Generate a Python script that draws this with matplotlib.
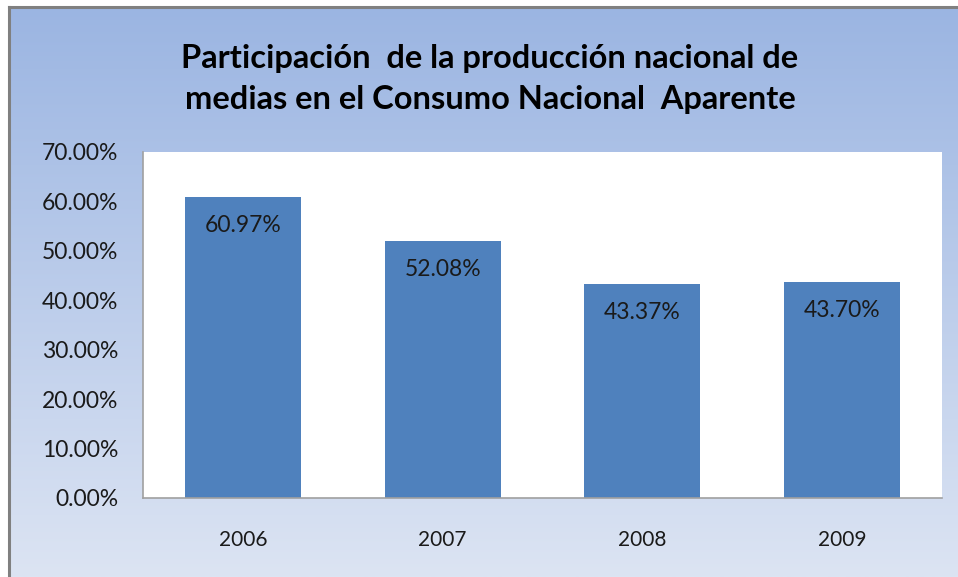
import matplotlib
matplotlib.use("Agg")
import matplotlib.pyplot as plt
import numpy as np
from matplotlib.colors import LinearSegmentedColormap

years = ["2006", "2007", "2008", "2009"]
values = [60.97, 52.08, 43.37, 43.70]
value_labels = ["60.97%", "52.08%", "43.37%", "43.70%"]
yticks = [0, 10, 20, 30, 40, 50, 60, 70]
ytick_labels = ["0.00%", "10.00%", "20.00%", "30.00%", "40.00%", "50.00%", "60.00%", "70.00%"]
title = "Participación  de la producción nacional de\nmedias en el Consumo Nacional  Aparente"

plt.rcParams['font.family'] = ['Lato', 'DejaVu Sans']

W, H = 958, 577
fig = plt.figure(figsize=(W / 100, H / 100), dpi=100)
fig.patch.set_facecolor("white")

# gradient background
bx0, by1 = 9 / W, 1 - 7 / H
bg = fig.add_axes([bx0, 0, 1 - bx0, by1])
cmap = LinearSegmentedColormap.from_list("bg", ["#DCE4F3", "#9BB5E2"])
grad = np.linspace(0, 1, 256).reshape(-1, 1)
bg.imshow(grad, aspect="auto", cmap=cmap, origin="lower", extent=[0, 1, 0, 1])
bg.set_xlim(0, 1)
bg.set_ylim(0, 1)
bg.set_axis_off()
fig.add_artist(plt.Line2D([bx0, bx0], [0, by1], color="#808080", lw=2.2, transform=fig.transFigure))
fig.add_artist(plt.Line2D([bx0, 1], [by1, by1], color="#808080", lw=2.2, transform=fig.transFigure))

# plot area
px0, px1 = 143, 942
py0, py1 = 152, 498
ax = fig.add_axes([px0 / W, 1 - py1 / H, (px1 - px0) / W, (py1 - py0) / H])
ax.set_facecolor("white")
x = np.arange(len(years))
ax.bar(x, values, width=0.58, color="#4F81BD", zorder=2)
ax.set_xlim(-0.5, len(years) - 0.5)
ax.set_ylim(0, 70)
ax.set_yticks(yticks)
ax.set_yticklabels(ytick_labels, fontsize=16.5, color="#1a1a1a")
ax.set_xticks(x)
ax.set_xticklabels(years, fontsize=15, color="#1a1a1a")
ax.tick_params(axis="y", length=0, pad=18)
ax.tick_params(axis="x", length=0, pad=23)
for s in ["top", "right"]:
    ax.spines[s].set_visible(False)
for s in ["left", "bottom"]:
    ax.spines[s].set_color("#A0A0A0")
    ax.spines[s].set_linewidth(1.2)

for xi, v, lab in zip(x, values, value_labels):
    ax.annotate(lab, (xi, v), xytext=(0, -29), textcoords="offset pixels",
                ha="center", va="center", fontsize=16.5, color="#1a1a1a", zorder=3)

fig.text(490 / W, 1 - 79 / H, title, ha="center", va="center", fontsize=23.5,
         fontweight="bold", color="black", linespacing=1.5)

fig.savefig("out.png", dpi=100, facecolor=fig.get_facecolor())
